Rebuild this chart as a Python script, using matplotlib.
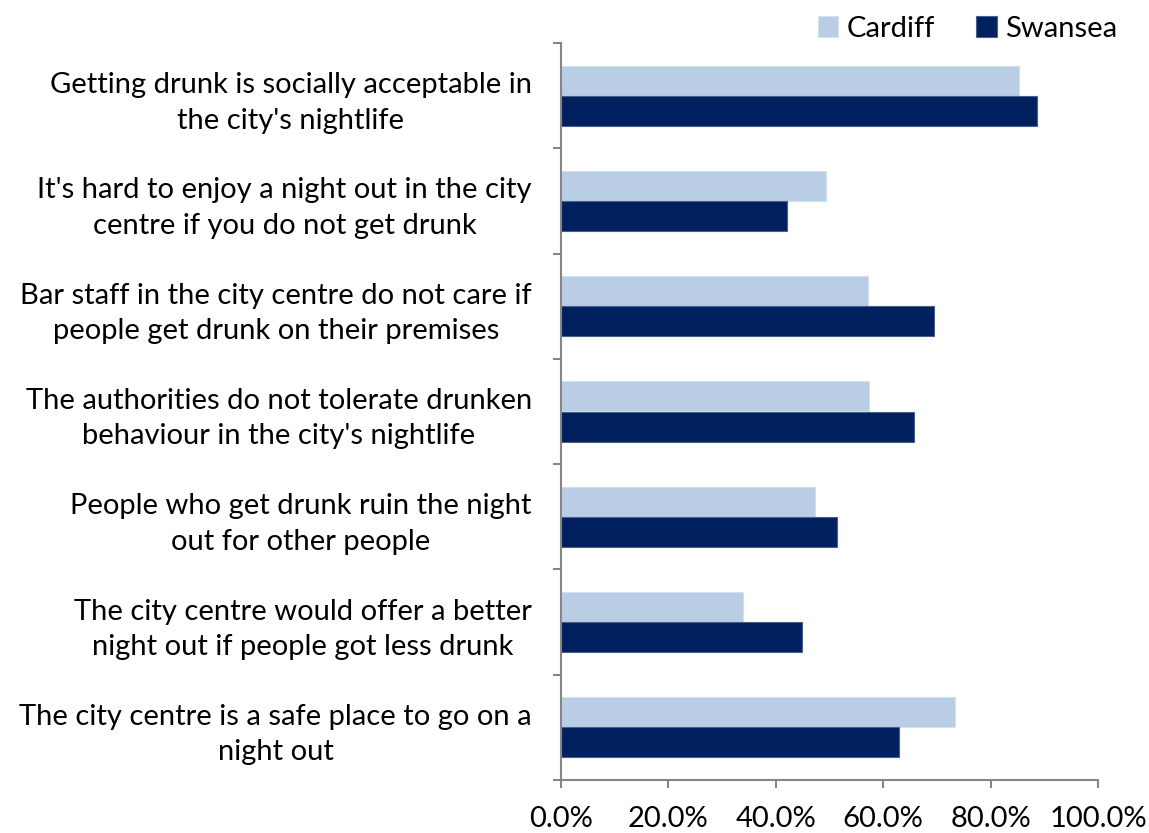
import matplotlib
matplotlib.use("Agg")
import matplotlib.pyplot as plt
import numpy as np
from matplotlib.ticker import FixedLocator, PercentFormatter

plt.rcParams['font.family'] = ['Lato', 'DejaVu Sans']

categories = [
    "Getting drunk is socially acceptable in\nthe city's nightlife",
    "It's hard to enjoy a night out in the city\ncentre if you do not get drunk",
    "Bar staff in the city centre do not care if\npeople get drunk on their premises",
    "The authorities do not tolerate drunken\nbehaviour in the city's nightlife",
    "People who get drunk ruin the night\nout for other people",
    "The city centre would offer a better\nnight out if people got less drunk",
    "The city centre is a safe place to go on a\nnight out",
]
cardiff = [85.2, 49.3, 57.1, 57.4, 47.3, 33.8, 73.3]
swansea = [88.7, 42.0, 69.5, 65.8, 51.4, 44.8, 62.9]
x_ticks = [0, 20, 40, 60, 80, 100]

FS = 21

fig = plt.figure(figsize=(11.49, 8.33), dpi=100)
ax = fig.add_axes([561 / 1149, 1 - 780 / 833, (1098 - 561) / 1149, (780 - 43) / 833])

n = len(categories)
centers = np.arange(n) + 0.5
h = 0.285
ax.barh(centers - h / 2, cardiff, height=h, color="#B9CDE5",
        edgecolor="#D3E0EF", linewidth=0.8, label="Cardiff")
ax.barh(centers + h / 2, swansea, height=h, color="#002060",
        edgecolor="#4A5F8A", linewidth=0.8, label="Swansea")

ax.set_xlim(0, 100)
ax.set_ylim(n, 0)

axis_grey = "#868686"
for side in ("top", "right"):
    ax.spines[side].set_visible(False)
for side in ("left", "bottom"):
    ax.spines[side].set_color(axis_grey)
    ax.spines[side].set_linewidth(1.5)

ax.xaxis.set_major_locator(FixedLocator(x_ticks))
ax.xaxis.set_major_formatter(PercentFormatter(decimals=1))
ax.tick_params(axis="x", which="major", direction="out", length=6,
               width=1.5, color=axis_grey, labelsize=FS, pad=13,
               labelcolor="black")

ax.yaxis.set_major_locator(FixedLocator(np.arange(n + 1)))
ax.yaxis.set_major_formatter(plt.NullFormatter())
ax.tick_params(axis="y", which="major", direction="out", length=6,
               width=1.5, color=axis_grey)
ax.yaxis.set_minor_locator(FixedLocator(centers))
ax.set_yticklabels(categories, minor=True)
ax.tick_params(axis="y", which="minor", length=0, labelsize=FS, pad=21,
               labelcolor="black")
for lbl in ax.get_yticklabels(minor=True):
    lbl.set_multialignment("center")
    lbl.set_linespacing(1.45)

leg = fig.legend(loc="upper right", bbox_to_anchor=(1135 / 1149, 1 + 2 / 833),
                 ncol=2, frameon=False, fontsize=FS, handlelength=0.7,
                 handleheight=0.7, handletextpad=0.3, columnspacing=1.4,
                 borderaxespad=0.2)

fig.savefig("out.png", dpi=100)
